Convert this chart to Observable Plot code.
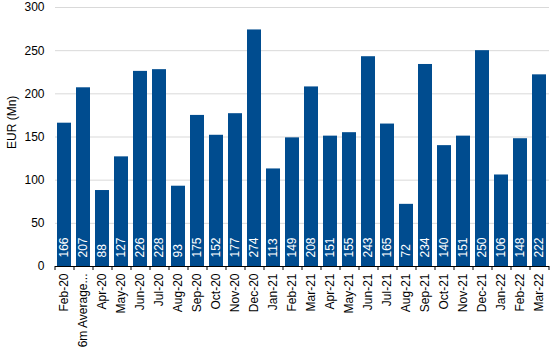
<!DOCTYPE html>
<html><head><meta charset="utf-8">
<script src="https://cdn.jsdelivr.net/npm/d3@7"></script>
<script src="https://cdn.jsdelivr.net/npm/@observablehq/plot@0.6"></script>
<style>
html,body{margin:0;padding:0;background:#fff;}
#chart{width:550px;height:358px;}
</style>
</head><body><div id="chart"></div>
<script>
const categories = ["Feb-20","6m Average...","Apr-20","May-20","Jun-20","Jul-20","Aug-20","Sep-20","Oct-20","Nov-20","Dec-20","Jan-21","Feb-21","Mar-21","Apr-21","May-21","Jun-21","Jul-21","Aug-21","Sep-21","Oct-21","Nov-21","Dec-21","Jan-22","Feb-22","Mar-22"];
const values = [166,207,88,127,226,228,93,175,152,177,274,113,149,208,151,155,243,165,72,234,140,151,250,106,148,222];
const yTicks = [0,50,100,150,200,250,300];
const yLabel = ["EUR (Mn)"];

const data = categories.map((c, i) => ({month: c, value: values[i]}));
const W = 550, H = 358, ML = 55, MR = 1;
const step = (W - ML - MR) / categories.length;
const font = "'Liberation Sans', Arial, sans-serif";

const chart = Plot.plot({
  width: W, height: H,
  marginTop: 7, marginBottom: 92, marginLeft: ML, marginRight: MR,
  style: {fontFamily: font, fontSize: "12px", color: "#000", background: "#fff"},
  x: {domain: categories, paddingInner: 0.24, paddingOuter: 0.12, label: null},
  y: {domain: [0, 300], ticks: yTicks, label: null},
  marks: [
    Plot.gridY(yTicks, {stroke: "#d9d9d9", strokeOpacity: 1, strokeWidth: 1}),
    Plot.barY(data, {x: "month", y: "value", fill: "#004c8f"}),
    Plot.text(data, {x: "month", y: 0, text: d => String(d.value), rotate: -90, textAnchor: "start", dy: -9, fill: "#fff", fontSize: 12}),
    Plot.ruleY([0], {stroke: "#000", strokeWidth: 1}),
    Plot.axisY({ticks: yTicks, tickSize: 0, tickPadding: 11, label: null, fontSize: 12}),
    Plot.axisX({tickSize: 0, tickRotate: -90, tickPadding: 7, label: null, fontSize: 12}),
    Plot.axisX({tickSize: 4, tickFormat: () => "", dx: -step / 2, label: null, stroke: "#000"}),
    Plot.axisX({ticks: [categories[categories.length - 1]], tickSize: 4, tickFormat: () => "", dx: step / 2, label: null, stroke: "#000"}),
    Plot.text(yLabel, {frameAnchor: "left", rotate: -90, dx: -43, dy: 12, text: d => d, fontSize: 12, fill: "#000"})
  ]
});
document.getElementById("chart").appendChild(chart);
</script>
</body></html>
